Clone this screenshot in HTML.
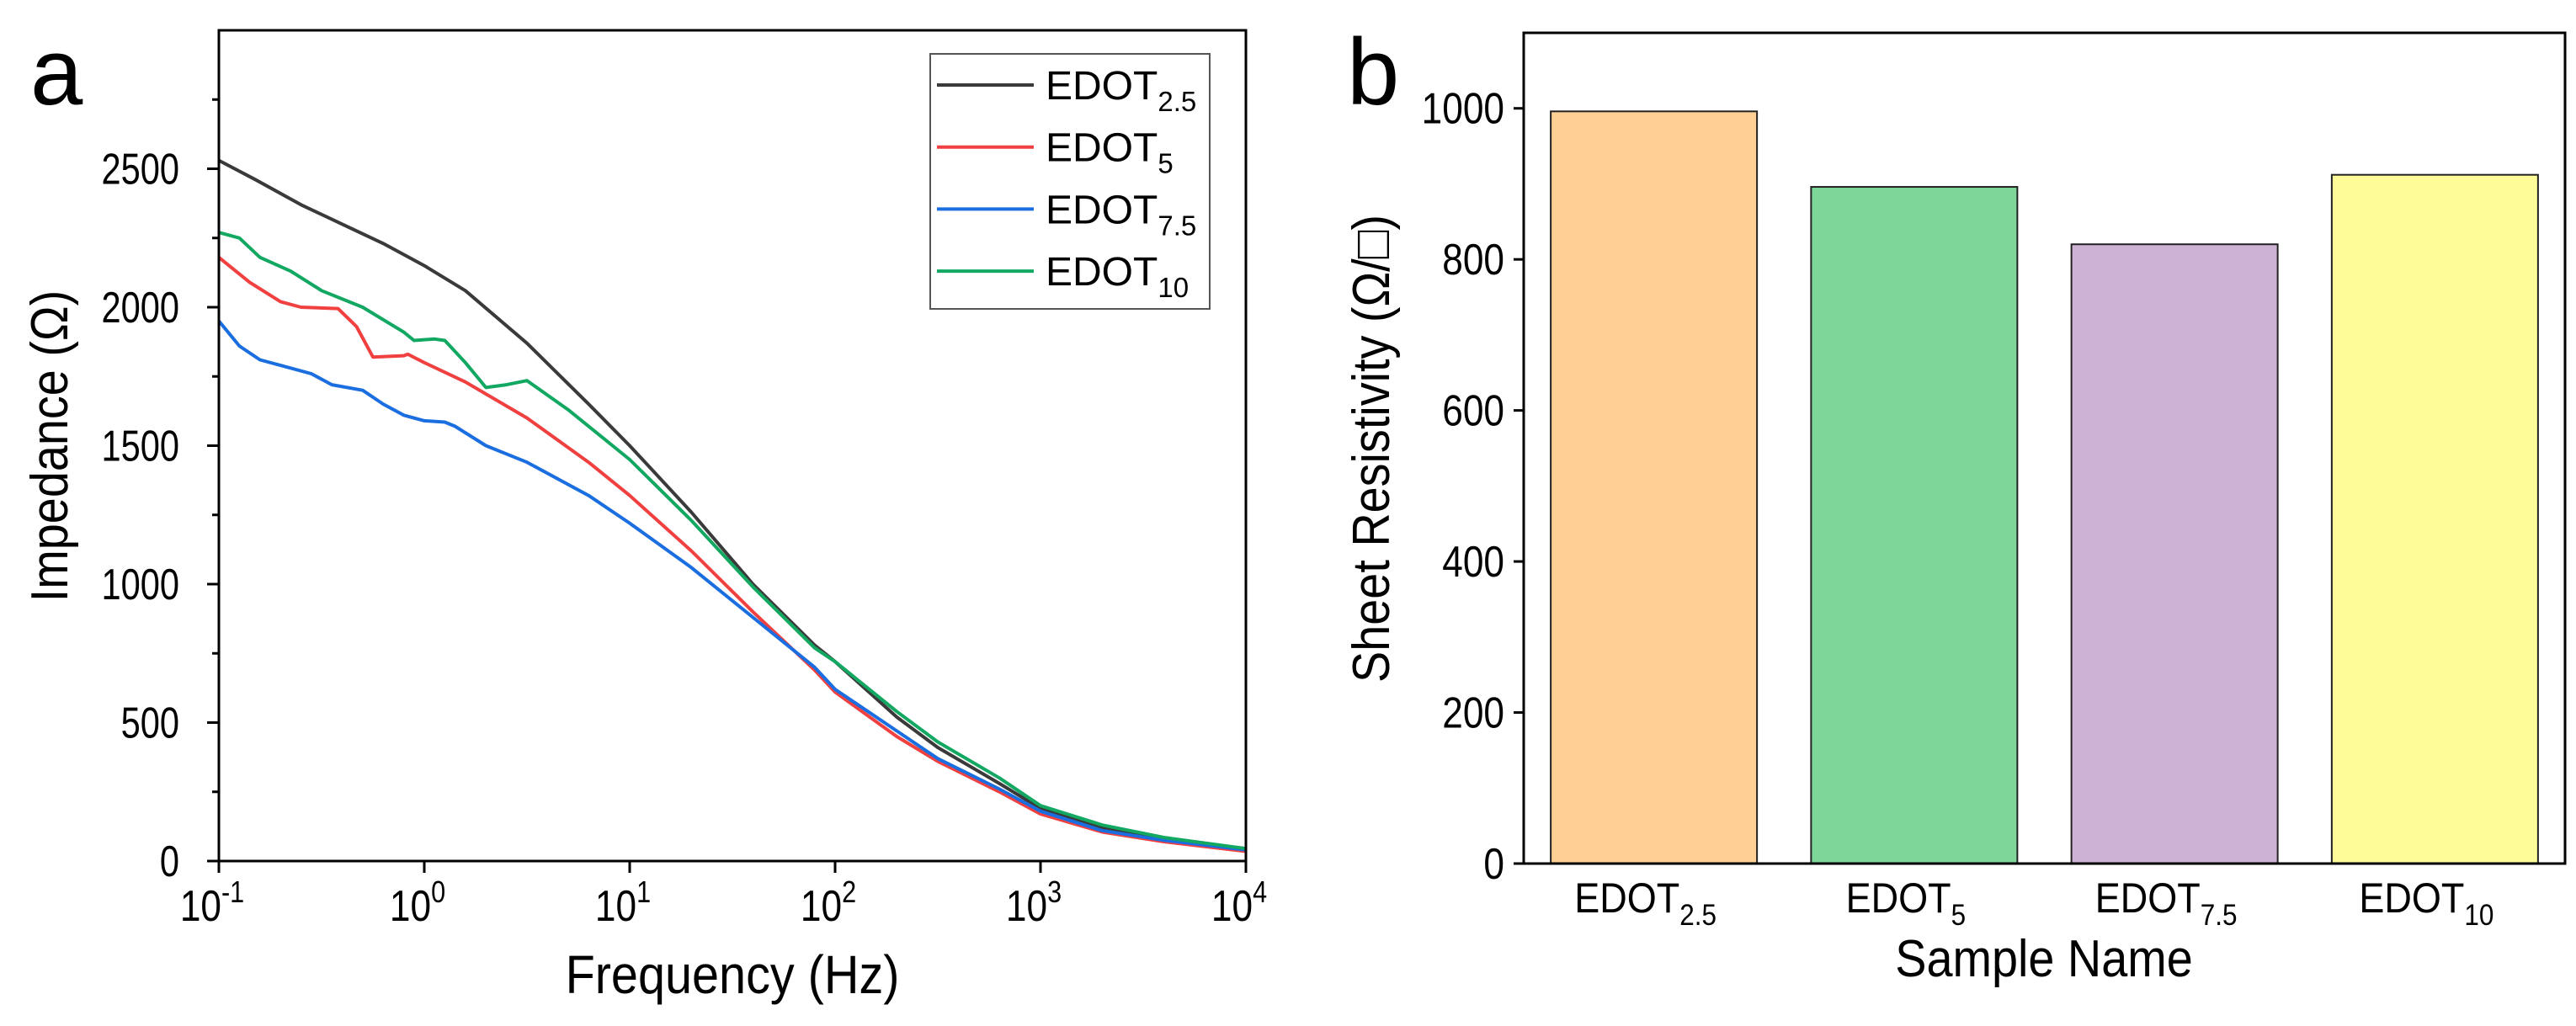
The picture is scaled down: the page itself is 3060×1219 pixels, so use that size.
<!DOCTYPE html>
<html><head><meta charset="utf-8"><style>
html,body{margin:0;padding:0;background:#fff;}
svg{display:block;font-family:"Liberation Sans",sans-serif;}
</style></head><body>
<svg id="fig" width="3060" height="1219" viewBox="0 0 3060 1219" xmlns="http://www.w3.org/2000/svg">
<rect width="3060" height="1219" fill="#fff"/>
<g id="pa"></g>
<g id="pb"></g>
</svg>
<script>
// Panel a data (log10 frequency, impedance)
const blackLogF=[-1,-0.82,-0.6,-0.4,-0.2,0,0.2,0.5,0.8,1,1.3,1.6,1.9,2,2.3,2.5,2.8,3,3.3,3.6,4];
const blackZ=[2530,2460,2370,2300,2230,2150,2060,1870,1650,1500,1260,1000,780,720,520,410,280,190,120,80,45];
const redLogF=[-1,-0.85,-0.7,-0.6,-0.42,-0.33,-0.25,-0.1,-0.08,0,0.2,0.5,0.8,1,1.3,1.6,1.9,2,2.3,2.5,2.8,3,3.3,3.6,4];
const redZ=[2180,2090,2020,2000,1995,1930,1820,1825,1830,1800,1730,1600,1440,1320,1120,900,690,610,450,360,250,170,105,70,35];
const blueLogF=[-1,-0.9,-0.8,-0.7,-0.55,-0.45,-0.3,-0.2,-0.1,0,0.1,0.15,0.3,0.5,0.6,0.8,1,1.3,1.6,1.9,2,2.3,2.5,2.8,3,3.3,3.6,4];
const blueZ=[1950,1860,1810,1790,1760,1720,1700,1650,1610,1590,1585,1570,1500,1440,1400,1320,1220,1060,880,700,620,470,370,260,180,110,75,40];
const greenLogF=[-1,-0.9,-0.8,-0.65,-0.5,-0.3,-0.1,-0.05,0.05,0.1,0.2,0.3,0.4,0.5,0.7,1,1.3,1.6,1.9,2,2.3,2.5,2.8,3,3.3,3.6,4];
const greenZ=[2270,2250,2180,2130,2060,2000,1910,1880,1885,1880,1800,1710,1720,1735,1630,1450,1230,990,770,720,540,430,300,200,130,85,45];
const seriesNames=["EDOT","EDOT","EDOT","EDOT"];
const seriesSubs=["2.5","5","7.5","10"];
const yTicksA=[0,500,1000,1500,2000,2500];
const xDecades=[-1,0,1,2,3,4];
// Panel b data
const categories=["2.5","5","7.5","10"];
const barValues=[996,896,820,912];
const yTicksB=[0,200,400,600,800,1000];

const NS="http://www.w3.org/2000/svg";
function mk(parent,tag,attrs,text){const e=document.createElementNS(NS,tag);for(const k in attrs)e.setAttribute(k,attrs[k]);if(text!==undefined)e.textContent=text;parent.appendChild(e);return e;}

// ---- Panel a ----
const pa=document.getElementById('pa');
const AL=260,AR=1480,AT=36,AB=1023;
const ax=v=>AL+(v+1)/5*(AR-AL);
const ay=v=>AB-v/3000*(AB-AT);
const colors=["#3a3a3a","#f04040","#1a6ee0","#12a862"];
const xsA=[blackLogF,redLogF,blueLogF,greenLogF], ysA=[blackZ,redZ,blueZ,greenZ];
const names=["curve-edot-2-5","curve-edot-5","curve-edot-7-5","curve-edot-10"];
for(let s=0;s<4;s++){
  const d=xsA[s].map((v,i)=>(i?'L':'M')+ax(v).toFixed(1)+','+ay(ysA[s][i]).toFixed(1)).join(' ');
  const p=mk(pa,'path',{d:d,fill:'none',stroke:colors[s],'stroke-width':4,'stroke-linejoin':'round'});
  
  
}
const fa=mk(pa,'rect',{x:AL,y:AT,width:AR-AL,height:AB-AT,fill:'none',stroke:'#000','stroke-width':3});


for(let v=0;v<=2750;v+=250){
  const major=v%500===0;
  mk(pa,'line',{x1:AL,x2:AL-(major?14:8),y1:ay(v),y2:ay(v),stroke:'#000','stroke-width':3});
}
yTicksA.forEach(v=>{
  const t=mk(pa,'text',{transform:'translate(213,'+(ay(v)+18)+') scale(0.8,1)','text-anchor':'end','font-size':52},String(v));
  
  
});
xDecades.forEach(v=>{
  mk(pa,'line',{x1:ax(v),x2:ax(v),y1:AB,y2:AB+14,stroke:'#000','stroke-width':3});
  const t=mk(pa,'text',{transform:'translate('+(ax(v)-8)+',1094) scale(0.85,1)','text-anchor':'middle','font-size':52},'10');
  
  
  mk(t,'tspan',{dy:-22,'font-size':36},String(v));
});
const ya=mk(pa,'text',{transform:'translate(80,530) rotate(-90) scale(0.9,1)','text-anchor':'middle','font-size':62},'Impedance (Ω)');


const xa=mk(pa,'text',{transform:'translate(870,1180) scale(0.9,1)','text-anchor':'middle','font-size':64},'Frequency (Hz)');


const la=mk(pa,'text',{x:36,y:124,'font-size':112},'a');


const lg=mk(pa,'g',{});


mk(lg,'rect',{x:1105,y:64,width:332,height:303,fill:'#fff',stroke:'#555','stroke-width':2});
for(let s=0;s<4;s++){
  const yy=101+s*73.7;
  const g=mk(lg,'g',{});
  
  
  mk(g,'line',{x1:1113,x2:1228,y1:yy,y2:yy,stroke:colors[s],'stroke-width':4});
  const t=mk(g,'text',{x:1242,y:yy+17,'font-size':48},seriesNames[s]);
  mk(t,'tspan',{dy:14,'font-size':33},seriesSubs[s]);
}

// ---- Panel b ----
const pb=document.getElementById('pb');
const BL=1810,BR=3047,BT=39,BB=1026;
const by=v=>BB-v/1100*(BB-BT);
const band=(BR-BL)/4;
const bx=i=>BL+band*(i+0.5);
const bw=245;
const barColors=["#FFCF94","#7FD699","#CDB2D6","#FDFC99"];
const barNames=["bar-edot-2-5","bar-edot-5","bar-edot-7-5","bar-edot-10"];
barValues.forEach((v,i)=>{
  const r=mk(pb,'rect',{x:bx(i)-bw/2,y:by(v),width:bw,height:BB-by(v),fill:barColors[i],stroke:'#222','stroke-width':2});
  
  
  const t=mk(pb,'text',{transform:'translate('+(bx(i)-10)+',1084) scale(0.9,1)','text-anchor':'middle','font-size':50},'EDOT');
  
  
  mk(t,'tspan',{dy:15,'font-size':35},categories[i]);
});
const fb=mk(pb,'rect',{x:BL,y:BT,width:BR-BL,height:BB-BT,fill:'none',stroke:'#000','stroke-width':3});


yTicksB.forEach(v=>{
  mk(pb,'line',{x1:BL,x2:BL-12,y1:by(v),y2:by(v),stroke:'#000','stroke-width':3});
  const t=mk(pb,'text',{transform:'translate(1787,'+(by(v)+18)+') scale(0.85,1)','text-anchor':'end','font-size':52},String(v));
  
  
});
const yb=mk(pb,'text',{transform:'translate(1650,533) rotate(-90) scale(0.9,1)','text-anchor':'middle','font-size':62},'Sheet Resistivity (Ω/□)');


const xb=mk(pb,'text',{transform:'translate(2428,1160) scale(0.9,1)','text-anchor':'middle','font-size':62},'Sample Name');


const lb=mk(pb,'text',{x:1600,y:124,'font-size':112},'b');


</script>
</body></html>
